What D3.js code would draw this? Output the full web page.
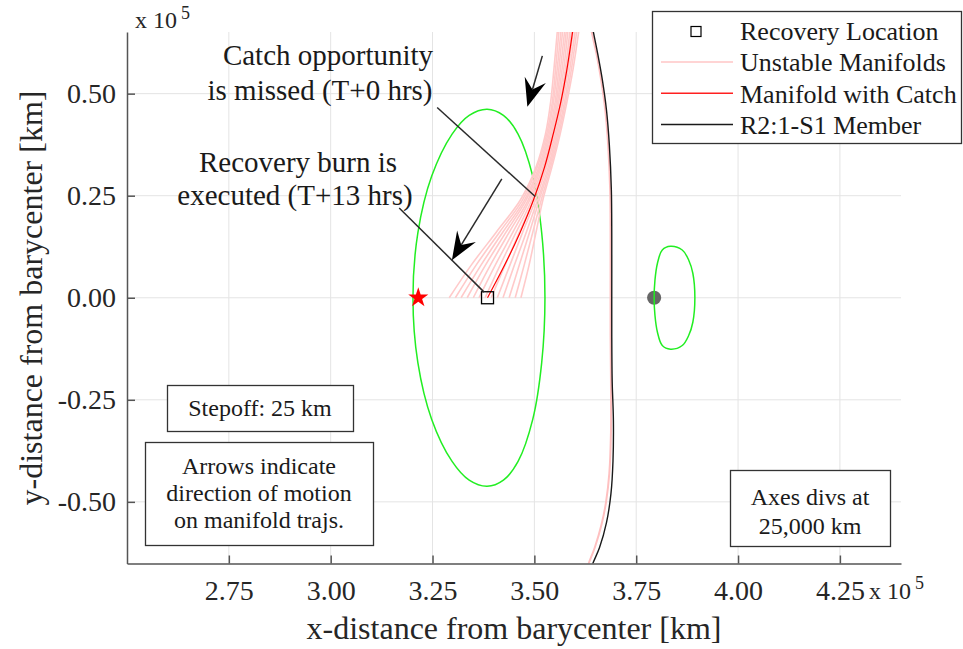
<html>
<head>
<style>
body { margin:0; background:#ffffff; }
svg { font-family:"Liberation Serif", "Times New Roman", serif; }
</style>
<script src="https://cdn.jsdelivr.net/npm/d3@7"></script>
</head>
<body>
<svg id="chart" width="963" height="649"></svg>
<script>
// all distances in units of 1e5 km
var xTicks = [2.75, 3.00, 3.25, 3.50, 3.75, 4.00, 4.25];
var yTicks = [-0.50, -0.25, 0.00, 0.25, 0.50];

// big green orbit
var orbitBig = [[3.526,0],[3.518,0.159],[3.496,0.298],[3.460,0.401],[3.424,0.447],[3.384,0.462],[3.340,0.447],[3.298,0.401],[3.248,0.298],[3.214,0.159],[3.202,0],
  [3.214,-0.159],[3.248,-0.298],[3.298,-0.401],[3.340,-0.447],[3.384,-0.462],[3.424,-0.447],[3.460,-0.401],[3.496,-0.298],[3.518,-0.159]];
// small green orbit round the Moon
var orbitMoon = [[3.894,0],[3.889,0.060],[3.879,0.092],[3.863,0.117],[3.834,0.126],[3.814,0.117],[3.802,0.084],[3.796,0.043],[3.794,0],
  [3.796,-0.043],[3.802,-0.084],[3.814,-0.117],[3.834,-0.126],[3.863,-0.117],[3.879,-0.092],[3.889,-0.060]];
// R2:1-S1 member
var member = [[3.641,0.670],[3.645,0.650],[3.656,0.595],[3.667,0.533],[3.677,0.460],[3.684,0.375],[3.689,0.264],[3.690,0.150],[3.690,0.030],[3.690,-0.090],[3.691,-0.204],[3.694,-0.300],[3.693,-0.400],[3.688,-0.480],[3.677,-0.551],[3.660,-0.612],[3.642,-0.655],[3.634,-0.684]];
// one unstable manifold that follows the member
var driftManifold = [[3.637,0.670],[3.641,0.650],[3.653,0.595],[3.664,0.533],[3.674,0.460],[3.681,0.375],[3.686,0.264],[3.687,0.150],[3.687,0.030],[3.687,-0.090],[3.688,-0.204],[3.688,-0.330],[3.684,-0.430],[3.676,-0.500],[3.665,-0.555],[3.649,-0.610],[3.632,-0.655],[3.624,-0.684]];

// unstable manifold band: x of each manifold at these y levels
var manifoldLevels = [0, 0.08, 0.16, 0.24, 0.32, 0.40, 0.48, 0.56, 0.66];
var manifoldX = [
  [3.291, 3.345, 3.406, 3.466, 3.504, 3.527, 3.540, 3.548, 3.557],
  [3.306, 3.357, 3.414, 3.471, 3.507, 3.530, 3.544, 3.552, 3.561],
  [3.320, 3.369, 3.422, 3.476, 3.511, 3.533, 3.547, 3.556, 3.566],
  [3.335, 3.380, 3.430, 3.480, 3.514, 3.536, 3.551, 3.560, 3.570],
  [3.350, 3.392, 3.438, 3.485, 3.517, 3.539, 3.554, 3.564, 3.575],
  [3.364, 3.404, 3.447, 3.489, 3.521, 3.542, 3.557, 3.568, 3.579],
  [3.379, 3.416, 3.455, 3.494, 3.524, 3.545, 3.560, 3.572, 3.583],
  [3.394, 3.428, 3.463, 3.498, 3.527, 3.548, 3.564, 3.576, 3.588],
  [3.409, 3.440, 3.471, 3.503, 3.530, 3.551, 3.567, 3.579, 3.592],
  [3.423, 3.451, 3.480, 3.508, 3.534, 3.554, 3.570, 3.583, 3.596],
  [3.438, 3.463, 3.488, 3.512, 3.537, 3.557, 3.574, 3.587, 3.601],
  [3.453, 3.475, 3.496, 3.517, 3.540, 3.560, 3.577, 3.591, 3.605],
  [3.467, 3.487, 3.504, 3.521, 3.543, 3.563, 3.580, 3.595, 3.610]
];
var catchX = [3.385, 3.427, 3.465, 3.498, 3.525, 3.546, 3.565, 3.580, 3.595];

var recovery = [3.385, 0];
var l1Point = [3.215, 0];
var moon = [3.794, 0];
var moonRadius = 0.01737;

// motion arrows [tail, tip]
var arrows = [[[3.5196, 0.5926], [3.4828, 0.468]], [[3.4201, 0.2914], [3.2975, 0.0919]]];
// callout lines [start, end]
var callouts = [[[3.2614, 0.466], [3.502, 0.248]], [[3.1682, 0.220], [3.3767, 0.0138]]];

var legendItems = ["Recovery Location", "Unstable Manifolds", "Manifold with Catch", "R2:1-S1 Member"];

var svg = d3.select("#chart");
var x = d3.scaleLinear().domain([2.5, 4.4]).range([127, 901]);
var y = d3.scaleLinear().domain([-0.651, 0.651]).range([563.5, 32]);

svg.append("defs").append("clipPath").attr("id", "plotClip").append("rect")
	.attr("x", 127).attr("y", 32).attr("width", 774).attr("height", 531.5);

//Grid
svg.append("g").selectAll("line").data(xTicks).enter().append("line")
	.attr("x1", d => x(d)).attr("x2", d => x(d)).attr("y1", 32).attr("y2", 563.5)
	.attr("stroke", "#e4e4e4").attr("stroke-width", 1);
svg.append("g").selectAll("line").data(yTicks).enter().append("line")
	.attr("x1", 127).attr("x2", 901).attr("y1", d => y(d)).attr("y2", d => y(d))
	.attr("stroke", "#e4e4e4").attr("stroke-width", 1);

var plot = svg.append("g").attr("clip-path", "url(#plotClip)");
var line = d3.line().x(d => x(d[0])).y(d => y(d[1])).curve(d3.curveCatmullRom);
var loop = d3.line().x(d => x(d[0])).y(d => y(d[1])).curve(d3.curveCatmullRomClosed);

plot.append("circle").attr("cx", x(moon[0])).attr("cy", y(moon[1]))
	.attr("r", x(moon[0] + moonRadius) - x(moon[0])).attr("fill", "#666666");

plot.append("path").attr("d", loop(orbitBig)).attr("fill", "none").attr("stroke", "#22ee22").attr("stroke-width", 1.5);
plot.append("path").attr("d", loop(orbitMoon)).attr("fill", "none").attr("stroke", "#22ee22").attr("stroke-width", 1.5);

manifoldX.forEach(function(row) {
	var pts = manifoldLevels.map((lv, i) => [row[i], lv]);
	plot.append("path").attr("d", line(pts)).attr("fill", "none").attr("stroke", "#ffcaca").attr("stroke-width", 1.6);
});
plot.append("path").attr("d", line(driftManifold)).attr("fill", "none").attr("stroke", "#ffc0c0").attr("stroke-width", 2);
plot.append("path").attr("d", line(manifoldLevels.map((lv, i) => [catchX[i], lv])))
	.attr("fill", "none").attr("stroke", "#ff0000").attr("stroke-width", 1.2);
plot.append("path").attr("d", line(member)).attr("fill", "none").attr("stroke", "#1a1a1a").attr("stroke-width", 1.4);

plot.append("path").attr("d", d3.symbol().type(d3.symbolStar).size(125)())
	.attr("transform", "translate(" + x(l1Point[0]) + "," + y(l1Point[1]) + ")").attr("fill", "#ff0000");
plot.append("rect").attr("x", x(recovery[0]) - 6).attr("y", y(recovery[1]) - 6).attr("width", 12).attr("height", 12)
	.attr("fill", "none").attr("stroke", "#000000").attr("stroke-width", 1.3);

//Callouts and arrows
callouts.forEach(function(c) {
	svg.append("line").attr("x1", x(c[0][0])).attr("y1", y(c[0][1])).attr("x2", x(c[1][0])).attr("y2", y(c[1][1]))
		.attr("stroke", "#2a2a2a").attr("stroke-width", 1.5);
});
arrows.forEach(function(a) {
	var x0 = x(a[0][0]), y0 = y(a[0][1]), x1 = x(a[1][0]), y1 = y(a[1][1]);
	var len = Math.hypot(x1 - x0, y1 - y0), ux = (x1 - x0) / len, uy = (y1 - y0) / len;
	var L = 28, W = 11, N = 10;
	svg.append("line").attr("x1", x0).attr("y1", y0).attr("x2", x1 - ux * (L - N)).attr("y2", y1 - uy * (L - N))
		.attr("stroke", "#2a2a2a").attr("stroke-width", 1.5);
	var p = [[x1, y1], [x1 - ux * L - uy * W, y1 - uy * L + ux * W], [x1 - ux * (L - N), y1 - uy * (L - N)], [x1 - ux * L + uy * W, y1 - uy * L - ux * W]];
	svg.append("path").attr("d", "M" + p.map(q => q.join(",")).join("L") + "Z").attr("fill", "#000000");
});

//Axes
var xAxis = d3.axisBottom(x).tickValues(xTicks).tickFormat(d => d.toFixed(2)).tickSizeInner(-8).tickSizeOuter(0).tickPadding(17);
var yAxis = d3.axisLeft(y).tickValues(yTicks).tickFormat(d => d.toFixed(2)).tickSizeInner(-8).tickSizeOuter(0).tickPadding(11);
svg.append("g").attr("class", "xaxis").attr("transform", "translate(0,563.5)").call(xAxis);
svg.append("g").attr("class", "yaxis").attr("transform", "translate(127,0)").call(yAxis);
svg.selectAll(".xaxis, .yaxis").selectAll("path, line").attr("stroke", "#555555").attr("stroke-width", 1.5);
svg.selectAll(".xaxis, .yaxis").selectAll("text").attr("fill", "#262626").style("font-size", "28px").style("font-family", "Liberation Serif");

svg.append("text").text("x-distance from barycenter [km]").attr("x", 514).attr("y", 639)
	.attr("text-anchor", "middle").style("font-size", "32px").attr("fill", "#262626");
svg.append("text").text("y-distance from barycenter [km]").attr("transform", "translate(42,298)rotate(-90)")
	.attr("text-anchor", "middle").style("font-size", "32px").attr("fill", "#262626");

function exponent(px, py, sy) {
	svg.append("text").text("x 10").attr("x", px).attr("y", py).style("font-size", "24px").attr("fill", "#262626");
	svg.append("text").text("5").attr("x", px + 46).attr("y", sy).style("font-size", "18px").attr("fill", "#262626");
}
exponent(135, 28, 19);
exponent(869, 599, 589);

//Annotation texts
function textLines(lines, cxs, y0, dy, size) {
	lines.forEach(function(t, i) {
		svg.append("text").text(t).attr("x", cxs[i]).attr("y", y0 + i * dy).attr("text-anchor", "middle")
			.style("font-size", size + "px").attr("fill", "#1a1a1a");
	});
}
textLines(["Catch opportunity", "is missed (T+0 hrs)"], [328, 320], 65, 35, 29);
textLines(["Recovery burn is", "executed (T+13 hrs)"], [298, 295], 172, 33, 29);

function box(x0, y0, w, h) {
	svg.append("rect").attr("x", x0).attr("y", y0).attr("width", w).attr("height", h)
		.attr("fill", "#ffffff").attr("stroke", "#333333").attr("stroke-width", 1.3);
}
box(167.5, 385.5, 186, 46);
textLines(["Stepoff: 25 km"], [260], 416, 0, 24);
box(145.5, 442.5, 228, 103);
textLines(["Arrows indicate", "direction of motion", "on manifold trajs."], [259, 259, 259], 474, 27, 24);
box(730.5, 470.5, 160, 76);
textLines(["Axes divs at", "25,000 km"], [810, 810], 505, 29, 24);

//Legend
box(652.5, 11.5, 309, 132);
var lg = svg.append("g");
legendItems.forEach(function(t, i) {
	lg.append("text").text(t).attr("x", 740).attr("y", 40 + i * 31.3).style("font-size", "26px").attr("fill", "#1a1a1a");
});
lg.append("rect").attr("x", 691).attr("y", 26.5).attr("width", 10).attr("height", 10).attr("fill", "none").attr("stroke", "#000").attr("stroke-width", 1.2);
var legendColors = ["#ffc6c6", "#ff2020", "#1a1a1a"];
legendColors.forEach(function(c, i) {
	lg.append("line").attr("x1", 661).attr("x2", 733).attr("y1", 62 + i * 31.3).attr("y2", 62 + i * 31.3)
		.attr("stroke", c).attr("stroke-width", 1.5);
});
</script>
</body>
</html>
